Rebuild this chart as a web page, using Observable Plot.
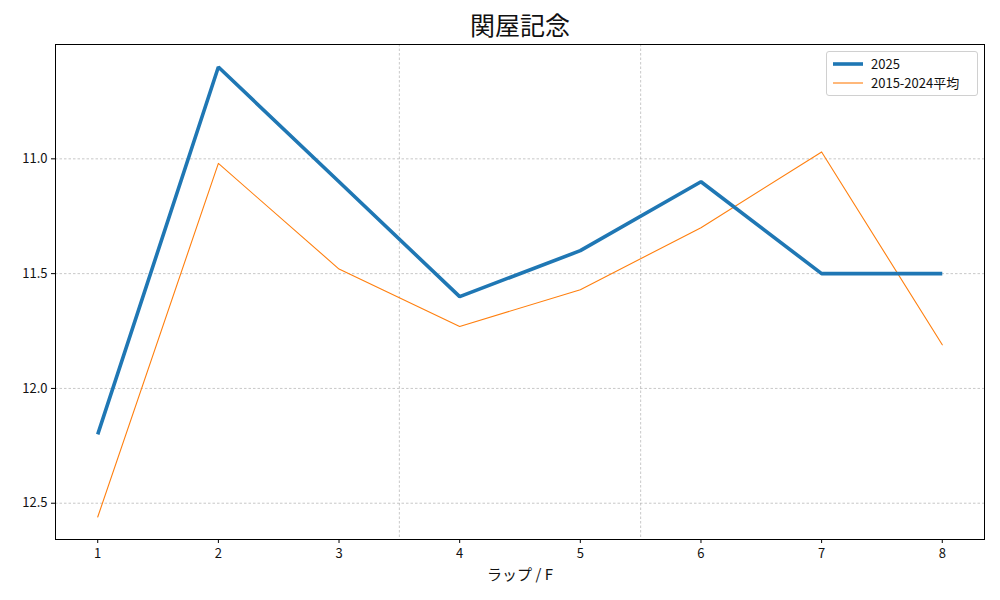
<!DOCTYPE html>
<html>
<head>
<meta charset="utf-8">
<script src="https://cdn.jsdelivr.net/npm/d3@7"></script>
<script src="https://cdn.jsdelivr.net/npm/@observablehq/plot@0.6"></script>
<style>
  html, body { margin: 0; padding: 0; background: #fff; }
  #wrap { position: relative; width: 1000px; height: 600px; font-family: "Noto Sans CJK JP", "DejaVu Sans", sans-serif; }
  #legend { position: absolute; left: 826px; top: 51px; width: 150px; height: 43px; border: 1px solid #d0d0d0; border-radius: 3px; background: rgba(255,255,255,0.85); font-size: 13px; color: #111; }
  .row { position: absolute; left: 4px; display: flex; align-items: center; }
  .row span { margin-left: 8px; }
</style>
</head>
<body>
<div id="wrap"></div>
<script>
const title = "関屋記念";
const laps = [1, 2, 3, 4, 5, 6, 7, 8];
const series2025 = [12.2, 10.6, 11.1, 11.6, 11.4, 11.1, 11.5, 11.5];
const seriesAvg = [12.56, 11.02, 11.48, 11.73, 11.57, 11.30, 10.97, 11.81];
const seriesNames = ["2025", "2015-2024平均"];
const seriesColors = ["#1f77b4", "#ff7f0e"];
const yTicks = [11.0, 11.5, 12.0, 12.5];
const separators = [3.5, 5.5];
const xLabel = "ラップ / F";

const d2025 = laps.map((l, i) => ({lap: l, t: series2025[i]}));
const dAvg = laps.map((l, i) => ({lap: l, t: seriesAvg[i]}));

const font = "Noto Sans CJK JP, DejaVu Sans, sans-serif";

const chart = Plot.plot({
  width: 1000,
  height: 600,
  marginLeft: 55,
  marginRight: 16,
  marginTop: 44,
  marginBottom: 61,
  style: {fontFamily: font, background: "white", color: "#111"},
  x: {domain: [0.65, 8.35]},
  y: {domain: [10.502, 12.658], reverse: true},
  marks: [
    Plot.ruleY(yTicks, {stroke: "#b0b0b0", strokeWidth: 0.7, strokeDasharray: "2.5,2"}),
    Plot.ruleX(separators, {stroke: "#b0b0b0", strokeWidth: 0.7, strokeDasharray: "2.5,2"}),
    Plot.line(dAvg, {x: "lap", y: "t", stroke: seriesColors[1], strokeWidth: 1.1}),
    Plot.line(d2025, {x: "lap", y: "t", stroke: seriesColors[0], strokeWidth: 3.6, strokeLinejoin: "miter", strokeLinecap: "butt"}),
    Plot.frame({stroke: "black", strokeWidth: 1}),
    Plot.axisX(laps, {tickSize: 4, tickPadding: 5, fontSize: 13, tickFormat: d => String(d), label: null, stroke: "black"}),
    Plot.axisY(yTicks, {tickSize: 4, tickPadding: 4, fontSize: 13, tickFormat: d3.format(".1f"), label: null, stroke: "black"}),
    Plot.text([xLabel], {frameAnchor: "bottom", lineAnchor: "middle", dy: 36, fontSize: 15, text: d => d, fill: "#111"}),
    Plot.text([title], {frameAnchor: "top", lineAnchor: "middle", dy: -18, fontSize: 25, text: d => d, fill: "#111"})
  ]
});

const wrap = document.getElementById("wrap");
wrap.appendChild(chart);

const legend = document.createElement("div");
legend.id = "legend";
seriesNames.forEach((name, i) => {
  const row = document.createElement("div");
  row.className = "row";
  row.style.top = (i === 0 ? 2 : 21) + "px";
  row.innerHTML = `<svg width="32" height="16"><line x1="2" x2="32" y1="8" y2="8" stroke="${seriesColors[i]}" stroke-width="${i === 0 ? 3.6 : 1.1}"/></svg><span>${name}</span>`;
  legend.appendChild(row);
});
wrap.appendChild(legend);
</script>
</body>
</html>
